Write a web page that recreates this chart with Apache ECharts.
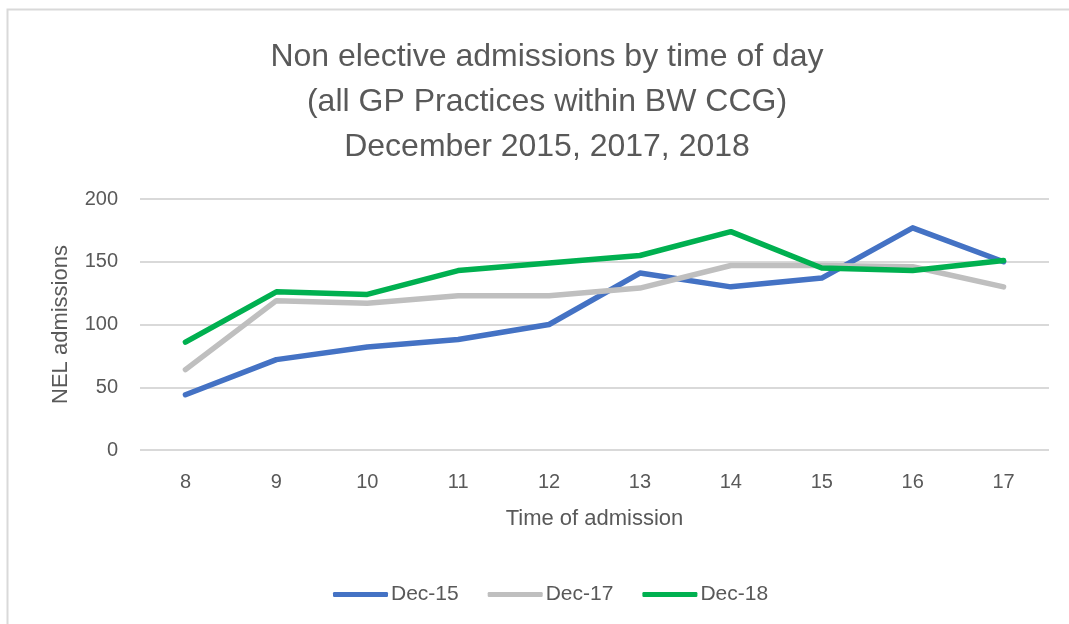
<!DOCTYPE html>
<html><head><meta charset="utf-8">
<script src="https://cdn.jsdelivr.net/npm/echarts@6/dist/echarts.min.js"></script>
<style>html,body{margin:0;padding:0;background:#fff}#c{width:1069px;height:624px}</style>
</head><body><div id="c"></div>
<script>
const hours = ['8','9','10','11','12','13','14','15','16','17'];
const dec15 = [44, 72, 82, 88, 100, 141, 130, 137, 177, 150];
const dec17 = [64, 119, 117, 123, 123, 129, 147, 147, 146, 130];
const dec18 = [86, 126, 124, 143, 149, 155, 174, 145, 143, 151];
const yTicks = [0, 50, 100, 150, 200];
const titleLines = ['Non elective admissions by time of day', '(all GP Practices within BW CCG)', 'December 2015, 2017, 2018'];

const txt = '#595959';
const font = "'Liberation Sans', 'DejaVu Sans', sans-serif";
const chart = echarts.init(document.getElementById('c'));
function mk(name, data, color) {
  return { name, type: 'line', data, symbol: 'none', smooth: false,
    lineStyle: { color, width: 5.5, cap: 'round', join: 'round' }, itemStyle: { color } };
}
chart.setOption({
  animation: false,
  textStyle: { fontFamily: font },
  graphic: [{ type: 'rect', shape: { x: 7.5, y: 9.5, width: 1200, height: 800 },
    style: { fill: 'none', stroke: '#d9d9d9', lineWidth: 2 } }],
  title: { text: titleLines.join('\n'), left: 542, top: 30, textAlign: 'center',
    textStyle: { color: txt, fontSize: 32, fontWeight: 'normal', lineHeight: 45, fontFamily: font } },
  grid: { left: 140, right: 20, top: 199, bottom: 174 },
  legend: { top: 579, left: 328, itemWidth: 55, itemHeight: 5, itemGap: 29,
    icon: 'roundRect',
    textStyle: { color: txt, fontSize: 21, fontFamily: font, padding: [0, 0, 0, -2] },
    data: ['Dec-15', 'Dec-17', 'Dec-18'] },
  xAxis: { type: 'category', data: hours, boundaryGap: true,
    name: 'Time of admission', nameLocation: 'middle', nameGap: 58,
    nameTextStyle: { color: txt, fontSize: 22, fontFamily: font },
    axisLine: { show: false }, axisTick: { show: false },
    axisLabel: { color: txt, fontSize: 20, margin: 22, fontFamily: font } },
  yAxis: { type: 'value', min: 0, max: 200, interval: 50,
    name: 'NEL admissions', nameLocation: 'middle', nameGap: 68,
    nameTextStyle: { color: txt, fontSize: 22, fontFamily: font },
    axisLine: { show: false }, axisTick: { show: false },
    axisLabel: { color: txt, fontSize: 20, margin: 22, fontFamily: font,
      formatter: v => yTicks.includes(v) ? String(v) : '' },
    splitLine: { lineStyle: { color: '#d9d9d9', width: 2 } } },
  series: [mk('Dec-15', dec15, '#4472C4'), mk('Dec-17', dec17, '#BFBFBF'), mk('Dec-18', dec18, '#00B050')]
});
</script></body></html>
